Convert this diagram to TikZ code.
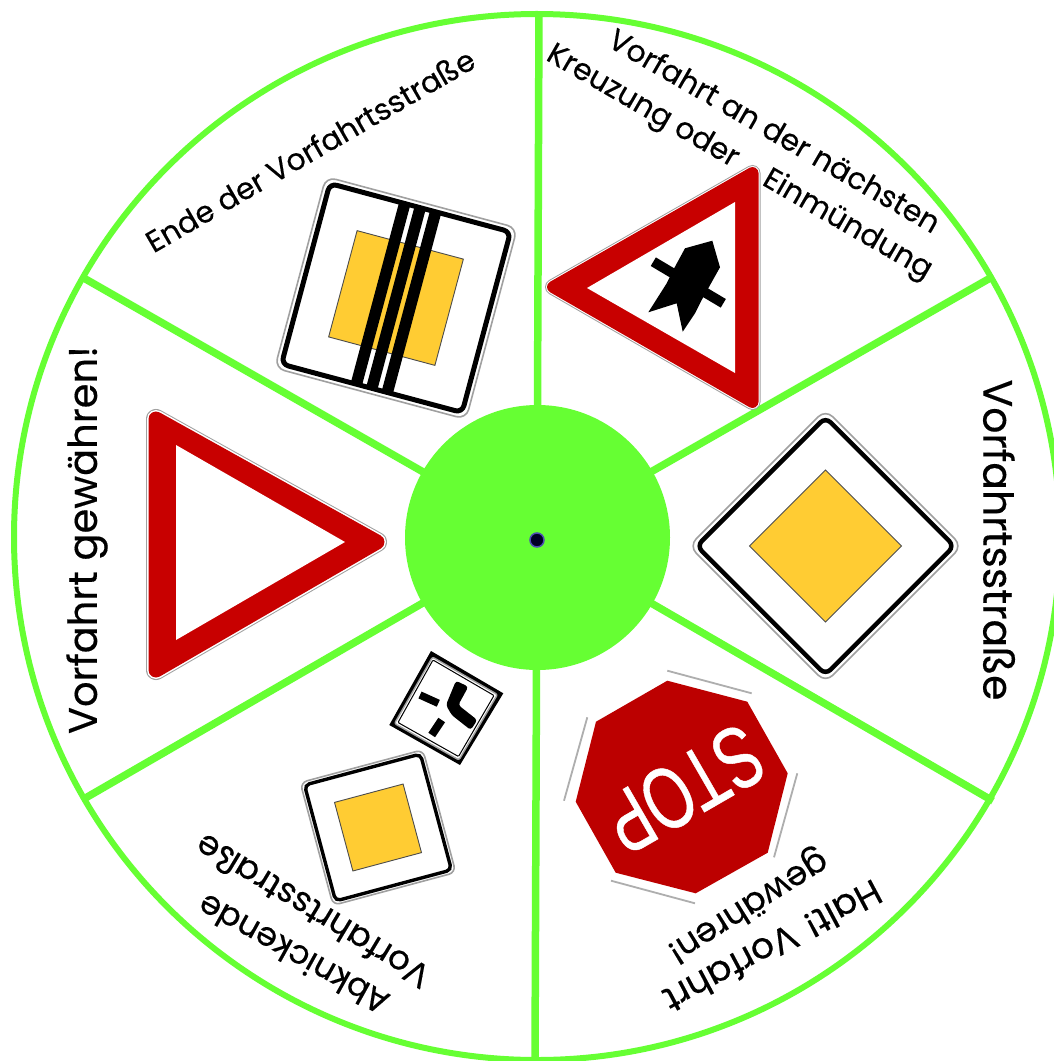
\documentclass[tikz,border=0pt]{standalone}
\usepackage{fontspec}
\setmainfont[FakeBold=0.35]{Poppins}
\newfontfamily\stopfont[FakeBold=0.6]{Liberation Sans}
\definecolor{wheel}{HTML}{66FF33}
\definecolor{signred}{HTML}{C80000}
\definecolor{stopred}{HTML}{BC0000}
\definecolor{signyellow}{HTML}{FFCC33}
\definecolor{edgegray}{HTML}{A0A0A0}
\tikzset{
 spoke/.style={draw=wheel,line width=7.5pt},
 lab/.style={font=\fontsize{#1}{#1}\selectfont,inner sep=0pt,text=black},
 halo/.style={draw=edgegray,fill=edgegray,line width=#1,line join=round},
 gap/.style={draw=white,fill=white,line width=#1,line join=round},
 redcore/.style={draw=signred,fill=signred,line width=#1,line join=round},
 whitesq/.style={fill=white,draw=edgegray,line width=1.6pt},
 blackrim/.style={draw=black,line width=#1,fill=white},
 blackrim/.default=5pt,
 yellowsq/.style={fill=signyellow,draw=black!70,line width=.9pt},
 blackbar/.style={draw=black,line cap=butt},
 graybar/.style={draw=edgegray!85,line width=1.8pt},
}
\begin{document}
\begin{tikzpicture}[x=1pt,y=-1pt]
\useasboundingbox (0,0) rectangle (1054,1061);
\clip (0,0) rectangle (1054,1061);
\coordinate (c) at (537,537);
\coordinate (dot) at (537,540);
\coordinate (s1) at (539,11);
\coordinate (s2) at (992,277);
\coordinate (s3) at (993,801);
\coordinate (s4) at (535,1061);
\coordinate (s5) at (82,800);
\coordinate (s6) at (82,277);
\draw[draw=wheel,line width=6pt,fill=white] (c) circle (523);
\foreach \e in {s1,s2,s3,s4,s5,s6} \draw[spoke] (c) -- (\e);
\fill[wheel] (537.5,537.5) circle (132.5);
\fill[black!85!blue,draw=blue!40!gray,line width=1.5pt] (dot) circle (7);

% End of priority road
\begin{scope}[shift={(396,298)},rotate=-15]
\draw[whitesq,rounded corners=10pt] (-99,-99) rectangle (99,99);
\draw[blackrim,rounded corners=7pt] (-93.5,-93.5) rectangle (93.5,93.5);
\draw[yellowsq] (-55,-55) rectangle (55,55);
\foreach \dx in {-16,0,16} \draw[blackbar,line width=11.5pt] (\dx,-92) -- (\dx,92);
\end{scope}

% Priority at next junction
\draw[halo=16pt] (553,287) -- (752.5,173) -- (752.5,402) -- cycle;
\draw[gap=14pt] (553,287) -- (752.5,173) -- (752.5,402) -- cycle;
\draw[redcore=12pt] (553,287) -- (752.5,173) -- (752.5,402) -- cycle;
\fill[white] (587,288) -- (735,202) -- (735,373) -- cycle;
\draw[black,line width=10pt] (653.3,261.7) -- (723.3,303.3);
\fill[black] (712.3,240.7) -- (720,267.3) -- (701.7,300) -- (695,313.3) -- (682.7,331.7) -- (676.7,303.3) -- (648.3,312.3) -- (666.7,283.3) -- (675,266.7) -- (685,248.3) -- cycle;

% Priority road
\begin{scope}[shift={(825.5,546)},rotate=45]
\draw[whitesq,rounded corners=10pt] (-96.5,-96.5) rectangle (96.5,96.5);
\draw[blackrim=4.5pt,rounded corners=7pt] (-91,-91) rectangle (91,91);
\draw[yellowsq] (-53.7,-53.7) rectangle (53.7,53.7);
\end{scope}

% Stop
\fill[stopred] (667.3,680.7) -- (747.3,701.7) -- (787.7,773.3) -- (767.7,852.7) -- (695.7,893.3) -- (615.7,872.7) -- (575.7,801.7) -- (596,721.7) -- cycle;
\draw[graybar] (667.3,670.7) -- (751.7,693.3);
\draw[graybar] (797.3,773.3) -- (774,857.3);
\draw[graybar] (695,903.3) -- (611,880.7);
\draw[graybar] (564,800.7) -- (587.3,717.3);
\node (stoptext) [font=\stopfont\fontsize{88}{88}\selectfont,text=white,inner sep=0pt,rotate=210,xscale=.7] at (684,789) {STOP};

% Yield
\draw[halo=20pt] (156,419) -- (377,542) -- (156,670) -- cycle;
\draw[gap=18pt] (156,419) -- (377,542) -- (156,670) -- cycle;
\draw[redcore=15pt] (156,419) -- (377,542) -- (156,670) -- cycle;
\fill[white] (176,445) -- (345,542) -- (176,640) -- cycle;

% Junction plate
\begin{scope}
\fill[black] (431,651) -- (503.3,693.3) -- (460,765) -- (389.3,725) -- cycle;
\draw[edgegray,line width=1.4pt,fill=white,rounded corners=2pt] (432.5,657) -- (497.5,694.5) -- (459,760) -- (394.5,723.5) -- cycle;
\draw[black,line width=1pt,rounded corners=1pt] (433,660) -- (494,695.5) -- (458.5,756.5) -- (398,722.5) -- cycle;
\fill[black,rounded corners=3pt] (456,680.7) -- (468.3,686.7) -- (458.3,705) -- (477.3,720) -- (470.7,730) -- (451.7,715) -- (446,705) -- cycle;
\draw[black,line width=7.5pt] (420,695) -- (438.3,703.3);
\draw[black,line width=8pt] (441.7,720) -- (431.7,735);
\end{scope}

% Small priority sign
\begin{scope}[shift={(378,827.5)},rotate=15]
\draw[whitesq,rounded corners=7pt] (-63.5,-63.5) rectangle (63.5,63.5);
\draw[blackrim=3.4pt,rounded corners=5pt] (-60,-60) rectangle (60,60);
\draw[yellowsq] (-35.5,-35.5) rectangle (35.5,35.5);
\end{scope}

% Labels
\node (t1) [lab=41,rotate=-90] at (999,540) {Vorfahrtsstraße};
\node (t2) [lab=40,rotate=90] at (87,540) {Vorfahrt gewähren!};
\node (t3) [lab=30,rotate=30] at (310,150) {Ende der Vorfahrtsstraße};
\node (t4) [lab=30,rotate=-30] at (775,130) {Vorfahrt an der nächsten};
\node (t5) [lab=30,rotate=-30] at (739,163) {Kreuzung oder\hspace{1.1em}Einmündung};
\node (t6) [lab=36,rotate=208] at (773,947) {Halt! Vorfahrt};
\node (t7) [lab=34,rotate=212] at (747,905) {gewähren!};
\node (t8) [lab=33,rotate=151] at (293,955) {Abknickende};
\node (t9) [lab=34,rotate=149] at (312,912) {Vorfahrtsstraße};
\end{tikzpicture}
\end{document}
